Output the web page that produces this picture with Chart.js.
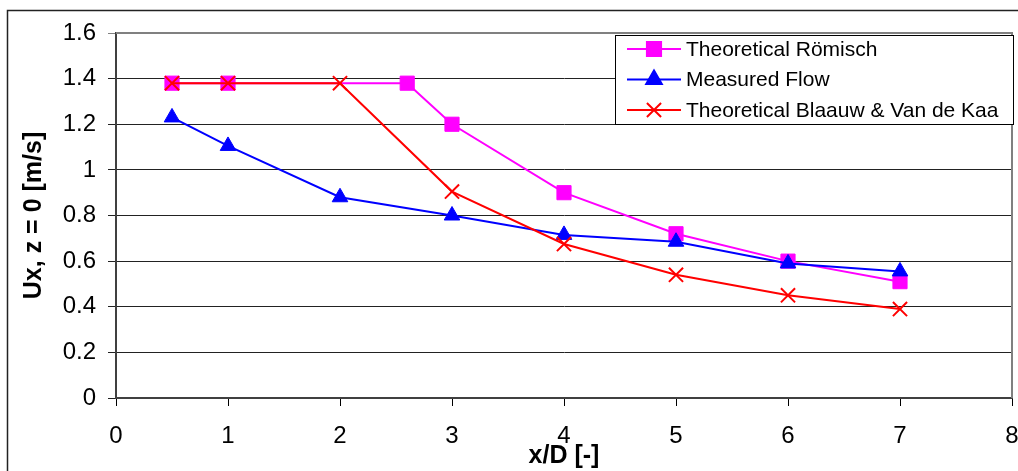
<!DOCTYPE html>
<html>
<head>
<meta charset="utf-8">
<script src="https://cdn.jsdelivr.net/npm/chart.js@4/dist/chart.umd.min.js"></script>
<style>
html, body { margin: 0; padding: 0; background: #fff; }
</style>
</head>
<body>
<canvas id="grab" width="1018" height="471"></canvas>
<script>
// values
const romischX = [0.5, 1, 2.6, 3, 4, 5, 6, 7];
const romischY = [1.38, 1.38, 1.38, 1.2, 0.9, 0.72, 0.6, 0.51];
const measuredX = [0.5, 1, 2, 3, 4, 5, 6, 7];
const measuredY = [1.23, 1.105, 0.88, 0.8, 0.715, 0.685, 0.59, 0.555];
const blaauwX = [0.5, 1, 2, 3, 4, 5, 6, 7];
const blaauwY = [1.38, 1.38, 1.38, 0.905, 0.675, 0.54, 0.45, 0.39];
const seriesNames = ["Theoretical Römisch", "Measured Flow", "Theoretical Blaauw & Van de Kaa"];
const xTickLabels = ["0", "1", "2", "3", "4", "5", "6", "7", "8"];
const yTickLabels = ["0", "0.2", "0.4", "0.6", "0.8", "1", "1.2", "1.4", "1.6"];
const xTitle = "x/D [-]";
const yTitle = "Ux, z = 0 [m/s]";

const FONT = "'Liberation Sans', Arial, sans-serif";

const pts = (xs, ys) => xs.map((x, i) => ({ x: x, y: ys[i] }));

const frame = {
    id: "frame",
    beforeDraw(chart) {
        const c = chart.ctx;
        c.save();
        c.strokeStyle = "#222";
        c.lineWidth = 1.5;
        c.strokeRect(7.5, 10.5, 1200, 1000);
        c.restore();
    },
    beforeDatasetsDraw(chart) {
        const a = chart.chartArea;
        const c = chart.ctx;
        c.save();
        c.strokeStyle = "#808080";
        c.lineWidth = 2;
        c.beginPath();
        c.moveTo(a.left, a.top);
        c.lineTo(a.right, a.top);
        c.lineTo(a.right, a.bottom);
        c.stroke();
        c.restore();
    },
    afterDraw(chart) {
        const c = chart.ctx;
        const bx = 615, by = 35, bw = 398, bh = 89;
        c.save();
        c.fillStyle = "#fff";
        c.fillRect(bx, by, bw, bh);
        c.strokeStyle = "#000";
        c.lineWidth = 1;
        c.strokeRect(bx + 0.5, by + 0.5, bw, bh);
        c.font = "21px " + FONT;
        c.textBaseline = "middle";
        chart.data.datasets.forEach((ds, i) => {
            const y = 49 + i * 30.5;
            c.strokeStyle = ds.borderColor;
            c.lineWidth = 2;
            c.beginPath();
            c.moveTo(627, y);
            c.lineTo(681, y);
            c.stroke();
            c.fillStyle = ds.pointBackgroundColor;
            c.strokeStyle = ds.pointBorderColor;
            Chart.helpers.drawPoint(c, {
                pointStyle: ds.pointStyle,
                radius: ds.pointRadius,
                borderWidth: ds.pointBorderWidth,
                rotation: 0
            }, 654, y);
            c.fillStyle = "#000";
            c.fillText(ds.label, 686, y + 1);
        });
        c.restore();
    }
};

const grph = document.querySelector("#grab");

const man = new Chart(grph, {
    type: "line",
    data: {
        datasets: [
            {
                label: seriesNames[0],
                data: pts(romischX, romischY),
                borderColor: "#ff00ff",
                borderWidth: 2,
                pointStyle: "rect",
                pointRadius: 10,
                pointBackgroundColor: "#ff00ff",
                pointBorderColor: "#ff00ff",
                pointBorderWidth: 1,
                order: 3
            },
            {
                label: seriesNames[1],
                data: pts(measuredX, measuredY),
                borderColor: "#0000ff",
                borderWidth: 2,
                pointStyle: "triangle",
                pointRadius: 9,
                pointBackgroundColor: "#0000ff",
                pointBorderColor: "#0000ff",
                pointBorderWidth: 1,
                order: 2
            },
            {
                label: seriesNames[2],
                data: pts(blaauwX, blaauwY),
                borderColor: "#ff0000",
                borderWidth: 2,
                pointStyle: "crossRot",
                pointRadius: 10,
                pointBackgroundColor: "#ff0000",
                pointBorderColor: "#ff0000",
                pointBorderWidth: 2,
                order: 1
            }
        ]
    },
    options: {
        responsive: false,
        animation: false,
        devicePixelRatio: 1,
        layout: { autoPadding: false, padding: { left: 0, right: 6, top: 33, bottom: 0 } },
        plugins: {
            legend: { display: false },
            tooltip: { enabled: false }
        },
        elements: { line: { tension: 0 } },
        scales: {
            x: {
                type: "linear",
                min: 0,
                max: 8,
                afterFit: (s) => { s.height = 73; s.paddingRight = 0; s.paddingLeft = 0; },
                ticks: {
                    stepSize: 1,
                    padding: 16,
                    color: "#000",
                    maxRotation: 0,
                    font: { family: FONT, size: 24 },
                    callback: (v) => xTickLabels[Math.round(v)]
                },
                grid: { drawOnChartArea: false, drawTicks: true, tickLength: 8, color: "#000" },
                border: { color: "#404040", width: 2 },
                title: {
                    display: true,
                    text: xTitle,
                    color: "#000",
                    font: { family: FONT, size: 25, weight: "bold", lineHeight: 1.2 },
                    padding: { top: 0, bottom: 0 }
                }
            },
            y: {
                min: 0,
                max: 1.6,
                afterFit: (s) => { s.width = 116; },
                ticks: {
                    stepSize: 0.2,
                    padding: 12,
                    color: "#000",
                    font: { family: FONT, size: 24 },
                    callback: (v) => yTickLabels[Math.round(v * 5)]
                },
                grid: {
                    color: (ctx) => (ctx.tick && ctx.tick.value >= 1.59 ? "#808080" : "#222"),
                    lineWidth: 1,
                    tickLength: 8
                },
                border: { color: "#404040", width: 2 },
                title: {
                    display: true,
                    text: yTitle,
                    color: "#000",
                    font: { family: FONT, size: 25, weight: "bold", lineHeight: 1.2 },
                    padding: { top: 19, bottom: 0 }
                }
            }
        }
    },
    plugins: [frame]
});
</script>
</body>
</html>
